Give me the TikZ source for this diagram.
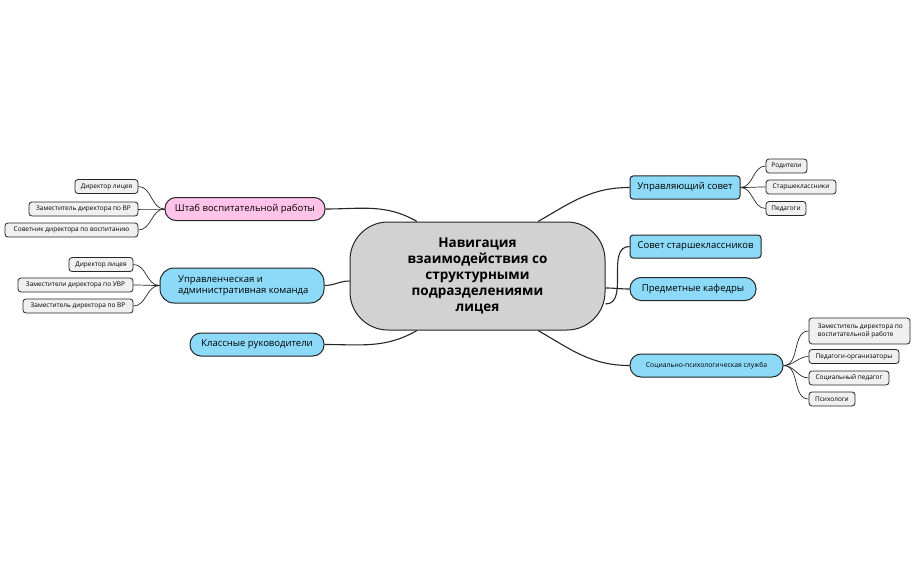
\documentclass[tikz,border=0pt]{standalone}
\usepackage{fontspec}
\setmainfont{Open Sans}
\begin{document}
\begin{tikzpicture}[x=1pt,y=-1pt,
  base/.style={draw=black!85,line width=1pt,align=left,inner sep=0pt},
  br/.style={base,minimum height=23pt,font=\fontsize{9.5}{11}\selectfont,rounded corners=11pt},
  brs/.style={base,minimum height=23pt,font=\fontsize{9.5}{11}\selectfont,rounded corners=3pt},
  lf/.style={base,fill=gray!12,minimum height=14pt,font=\fontsize{6.5}{8}\selectfont,rounded corners=3pt,line width=0.8pt},
  ln/.style={line width=1.1pt,black!85},
  lnl/.style={line width=0.7pt,black!85}]
\useasboundingbox (0,0) rectangle (916,567);
\node[base,fill=gray!35,rounded corners=38pt,minimum width=255pt,minimum height=108pt,align=center,font=\bfseries\fontsize{13.5}{16}\selectfont] (c) at (477.5,276) {Навигация\\взаимодействия со\\структурными\\подразделениями\\лицея};
% left branches
\node[br,fill=pink!70!magenta!50,minimum width=160pt] (b1) at (245,209) {Штаб воспитательной работы};
\node[br,fill=cyan!45,minimum width=164pt,rounded corners=14pt,minimum height=35pt] (b2) at (242,285.5) {\ Управленческая и\\ \ административная команда};
\node[br,fill=cyan!45,minimum width=134pt] (b3) at (257,344.5) {Классные руководители};
% right branches
\node[brs,fill=cyan!45,minimum width=110pt] (r1) at (685,187.5) {Управляющий совет};
\node[brs,fill=cyan!45,minimum width=131pt] (r2) at (695.5,246.5) {Совет старшеклассников};
\node[br,fill=cyan!45,minimum width=126pt] (r3) at (693,289) {Предметные кафедры};
\node[br,fill=cyan!45,minimum width=153pt,font=\fontsize{6.8}{8}\selectfont] (r4) at (706.5,365.5) {Социально-психологическая служба};
% left leaves
\node[lf,minimum width=63pt] (l11) at (106.5,186.5) {Директор лицея};
\node[lf,minimum width=109pt] (l12) at (83.5,209) {Заместитель директора по ВР};
\node[lf,minimum width=133pt] (l13) at (71.5,230) {Советник директора по воспитанию};
\node[lf,minimum width=64pt] (l21) at (101,264.5) {Директор лицея};
\node[lf,minimum width=115pt] (l22) at (75.5,285) {Заместители директора по УВР};
\node[lf,minimum width=110pt] (l23) at (78,306) {Заместитель директора по ВР};
% right leaves
\node[lf,minimum width=41pt] (q1) at (786.5,166) {Родители};
\node[lf,minimum width=70pt] (q2) at (801,187) {Старшеклассники};
\node[lf,minimum width=40pt] (q3) at (786,208.5) {Педагоги};
\node[lf,minimum width=101pt,minimum height=26pt] (s1) at (859.5,331) {\ Заместитель директора по\\ \ воспитательной работе};
\node[lf,minimum width=90pt] (s2) at (854,356.5) {Педагоги-организаторы};
\node[lf,minimum width=80pt] (s3) at (849,378) {Социальный педагог};
\node[lf,minimum width=46pt] (s4) at (832,399) {Психологи};
% center connectors
\draw[ln] (b1.east) to[out=0,in=150] (c.138);
\draw[ln] (b2.east) to[out=0,in=180] ([yshift=-5pt]c.west);
\draw[ln] (b3.east) to[out=0,in=210] (c.222);
\draw[ln] (r1.west) to[out=180,in=30] (c.42);
\draw[ln] (r2.west) to[out=180,in=0] ([yshift=-28pt]c.east);
\draw[ln] (r3.west) to[out=180,in=0] ([yshift=-12pt]c.east);
\draw[ln] (r4.west) to[out=180,in=-30] (c.-42);
% leaf connectors
\foreach \l in {l11,l12,l13}{\draw[lnl] (b1.west) to[out=180,in=0] (\l.east);}
\foreach \l in {l21,l22,l23}{\draw[lnl] (b2.west) to[out=180,in=0] (\l.east);}
\foreach \l in {q1,q2,q3}{\draw[lnl] (r1.east) to[out=0,in=180] (\l.west);}
\foreach \l in {s1,s2,s3,s4}{\draw[lnl] (r4.east) to[out=0,in=180] (\l.west);}
\end{tikzpicture}
\end{document}
